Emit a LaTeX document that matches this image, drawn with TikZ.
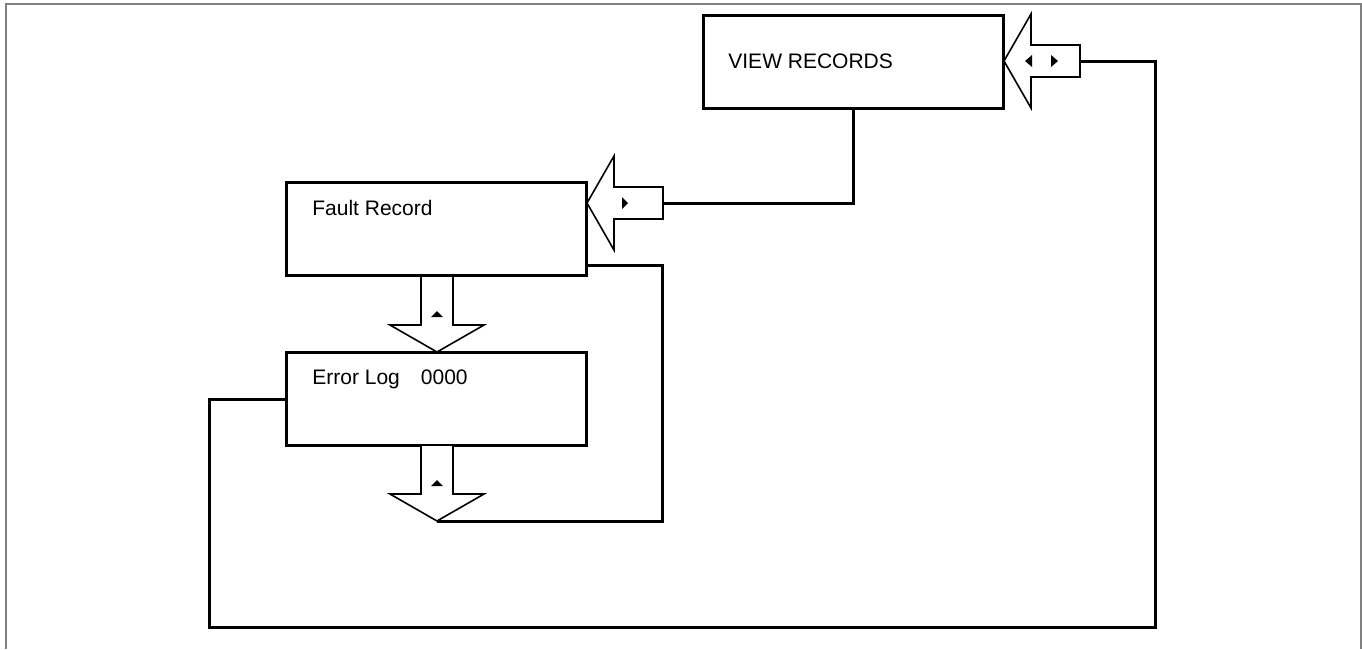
\documentclass[tikz,border=0pt]{standalone}
\usepackage{fontspec}
\setmainfont{Liberation Sans}
\usepackage{tikz}
\usetikzlibrary{positioning}
\definecolor{rcframe}{HTML}{808080}

\tikzset{
  pics/onearrow/.style={code={
    \draw[blk] (0,0) -- (27,-47) -- (27,-16) -- (76,-16) -- (76,16) -- (27,16) -- (27,47) -- cycle;
    \fill (35,-6) -- (41,0) -- (35,6) -- cycle;
    \coordinate (-tip) at (0,0);
    \coordinate (-tail) at (76,0);
  }},
  pics/twoarrow/.style={code={
    \draw[blk] (0,0) -- (27,-47) -- (27,-16) -- (76,-16) -- (76,16) -- (27,16) -- (27,47) -- cycle;
    \fill (28,-6) -- (21,0) -- (28,6) -- cycle;
    \fill (47,-6) -- (54,0) -- (47,6) -- cycle;
    \coordinate (-tip) at (0,0);
    \coordinate (-tail) at (76,0);
  }},
}

\begin{document}
\begin{tikzpicture}[
  x=0.5pt,y=-0.5pt,
  font=\fontsize{10.5}{12.6}\selectfont,
  box/.style={draw=black,line width=1.5pt,inner sep=0pt,minimum width=150pt,minimum height=46.5pt},
  txt/.style={inner sep=0pt,anchor=base west},
  blk/.style={draw=black,line width=0.8pt,fill=white,line join=miter},
  conn/.style={draw=black,line width=1.5pt},
]
\useasboundingbox (0,0) rectangle (1362,649);
\draw[rcframe,line width=0.75pt] (6,649) -- (6,4) -- (1361,4) -- (1361,649);

% menu boxes
\node[box] (vr) at (853,61.5) {};
\node[box] (fr) at (436,229) {};
\node[box] (el) at (436,399) {};
\node[txt] (vrtext) at (728,68) {VIEW RECORDS};
\node[txt] (frtext) at (312,215) {Fault Record};
\node[txt] (eltext) at (312,384) {Error Log~~~\,0000};

% block arrows
\pic (vra) at (1004,61) {twoarrow};
\pic (fra) at (587,203) {onearrow};
\pic[rotate=90] (dn1) at (437,352) {onearrow};
\pic[rotate=90] (dn2) at (437,521) {onearrow};

\coordinate (frout) at (587,265);
\coordinate (loopF) at (662,521);
\coordinate (loopR) at (1155,627);
\coordinate (loopL) at (209,627);

% connectors
\draw[conn] (vr.south) |- (fra-tail);
\draw[conn] (frout) -| (loopF) -- (dn2-tip);
\draw[conn] (vra-tail) -| (loopR) -- (loopL) |- (el.west);

\end{tikzpicture}
\end{document}
